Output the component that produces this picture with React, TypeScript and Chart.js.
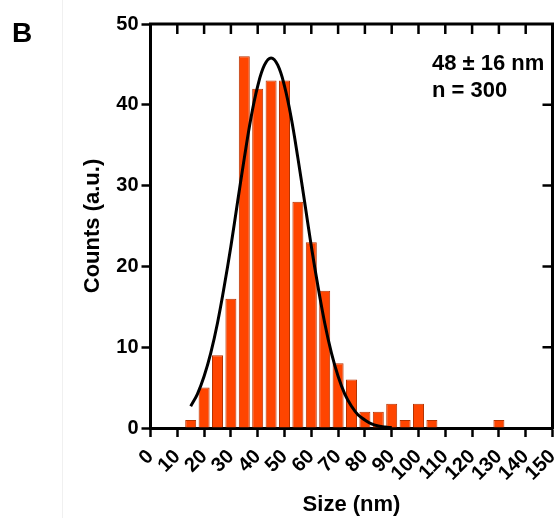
import React, { useEffect, useRef } from 'react';
import { Chart, registerables } from 'chart.js';

Chart.register(...registerables);

// Histogram bins (bin centre, nm) and counts
const binCenters = [15, 20, 25, 30, 35, 40, 45, 50, 55, 60, 65, 70, 75, 80, 85, 90, 95, 100, 105, 130];
const counts = [1, 5, 9, 16, 46, 42, 43, 43, 28, 23, 17, 8, 6, 2, 2, 3, 1, 3, 1, 1];

// Fitted curve
const fitX = [15, 17.5, 20, 22.5, 25, 27.5, 30, 32.5, 35, 37.5, 40, 42.5, 45, 47.5, 50, 52.5, 55, 57.5, 60, 62.5, 65, 67.5, 70, 72.5, 75, 77.5, 80, 82.5, 85, 87.5, 90];
const fitY = [2.7, 4.2, 6.4, 9.3, 13.0, 17.5, 22.5, 28.0, 33.4, 38.4, 42.3, 44.9, 45.8, 44.9, 42.3, 38.4, 33.4, 28.0, 22.5, 17.5, 13.0, 9.3, 6.4, 4.2, 2.7, 1.6, 1.0, 0.5, 0.25, 0.12, 0.05];

const xTicks = [0, 10, 20, 30, 40, 50, 60, 70, 80, 90, 100, 110, 120, 130, 140, 150];
const yTicks = [0, 10, 20, 30, 40, 50];

const panelLabel = 'B';
const statLines = ['48 \u00B1 16 nm', 'n = 300'];
const xTitle = 'Size (nm)';
const yTitle = 'Counts (a.u.)';

const FONT = '"Liberation Sans", Arial, Helvetica, sans-serif';

const framePlugin = {
  id: 'frame',
  afterDatasetsDraw(chart: any) {
    const { ctx, chartArea: a, scales } = chart;
    const x = scales.x;
    const y = scales.y;
    ctx.save();
    ctx.strokeStyle = '#000';
    ctx.lineWidth = 3;
    ctx.beginPath();
    ctx.moveTo(a.left - 1.5, a.top);
    ctx.lineTo(a.right, a.top);
    ctx.lineTo(a.right, a.bottom + 1.5);
    ctx.stroke();
    ctx.lineWidth = 2.5;
    ctx.beginPath();
    xTicks.slice(1, -1).forEach((v) => {
      const px = x.getPixelForValue(v);
      ctx.moveTo(px, a.top);
      ctx.lineTo(px, a.top + 10);
    });
    yTicks.slice(1, -1).forEach((v) => {
      const py = y.getPixelForValue(v);
      ctx.moveTo(a.right, py);
      ctx.lineTo(a.right - 10, py);
    });
    ctx.stroke();

    // statistics annotation
    ctx.fillStyle = '#000';
    ctx.font = `bold 22px ${FONT}`;
    ctx.textAlign = 'left';
    ctx.textBaseline = 'alphabetic';
    ctx.fillText(statLines[0], a.right - 120.5, a.top + 46);
    ctx.fillText(statLines[1], a.right - 120.5, a.top + 73);

    // panel label & separator
    ctx.font = `bold 28px ${FONT}`;
    ctx.fillText(panelLabel, 12, 42);
    ctx.strokeStyle = '#f0f0f0';
    ctx.lineWidth = 1;
    ctx.beginPath();
    ctx.moveTo(62.5, 0);
    ctx.lineTo(62.5, chart.height);
    ctx.stroke();
    ctx.restore();
  },
};

export default function App() {
  const ref = useRef<HTMLCanvasElement | null>(null);

  useEffect(() => {
    if (!ref.current) return;
    const tickFont = { family: FONT, size: 20, weight: 'bold' as const };
    const titleFont = { family: FONT, size: 22, weight: 'bold' as const };
    const chart = new Chart(ref.current, {
      type: 'bar',
      data: {
        datasets: [
          {
            type: 'line',
            data: fitX.map((x, i) => ({ x, y: fitY[i] })),
            borderColor: '#000',
            borderWidth: 3,
            pointRadius: 0,
            tension: 0.4,
            fill: false,
            order: 0,
          } as any,
          {
            type: 'bar',
            data: binCenters.map((x, i) => ({ x, y: counts[i] })),
            backgroundColor: '#FF4500',
            borderColor: '#B53300',
            borderWidth: 1,
            barPercentage: 0.82,
            categoryPercentage: 1,
            order: 1,
          } as any,
        ],
      },
      options: {
        animation: false,
        responsive: false,
        layout: { padding: { left: 80, top: 24, right: 7.5, bottom: 0 } },
        plugins: { legend: { display: false }, tooltip: { enabled: false } },
        scales: {
          x: {
            type: 'linear',
            min: 0,
            max: 150,
            offset: false,
            afterFit: (s: any) => {
              s.height = 90;
              s.paddingLeft = 0;
              s.paddingRight = 0;
            },
            afterBuildTicks: (s: any) => {
              s.ticks = xTicks.map((v) => ({ value: v }));
            },
            ticks: {
              autoSkip: false,
              maxRotation: 45,
              minRotation: 45,
              color: '#000',
              font: tickFont,
              padding: 8,
            },
            grid: {
              offset: false,
              drawOnChartArea: false,
              tickLength: 9,
              tickWidth: 2.5,
              tickColor: '#000',
            },
            border: { color: '#000', width: 3 },
            title: { display: true, text: xTitle, color: '#000', font: titleFont, padding: 0 },
          },
          y: {
            type: 'linear',
            min: 0,
            max: 50,
            afterFit: (s: any) => {
              s.width = 70.5;
              s.paddingTop = 0;
              s.paddingBottom = 0;
            },
            afterBuildTicks: (s: any) => {
              s.ticks = yTicks.map((v) => ({ value: v }));
            },
            ticks: { color: '#000', font: tickFont, padding: 3 },
            grid: {
              drawOnChartArea: false,
              tickLength: 9,
              tickWidth: 2.5,
              tickColor: '#000',
            },
            border: { color: '#000', width: 3 },
            title: { display: true, text: yTitle, color: '#000', font: titleFont, padding: 0 },
          },
        },
      } as any,
      plugins: [framePlugin],
    });
    return () => chart.destroy();
  }, []);

  return (
    <div style={{ position: 'fixed', left: 0, top: 0, width: 560, height: 518, background: '#fff' }}>
      <canvas ref={ref} width={560} height={518} style={{ display: 'block' }} />
    </div>
  );
}
